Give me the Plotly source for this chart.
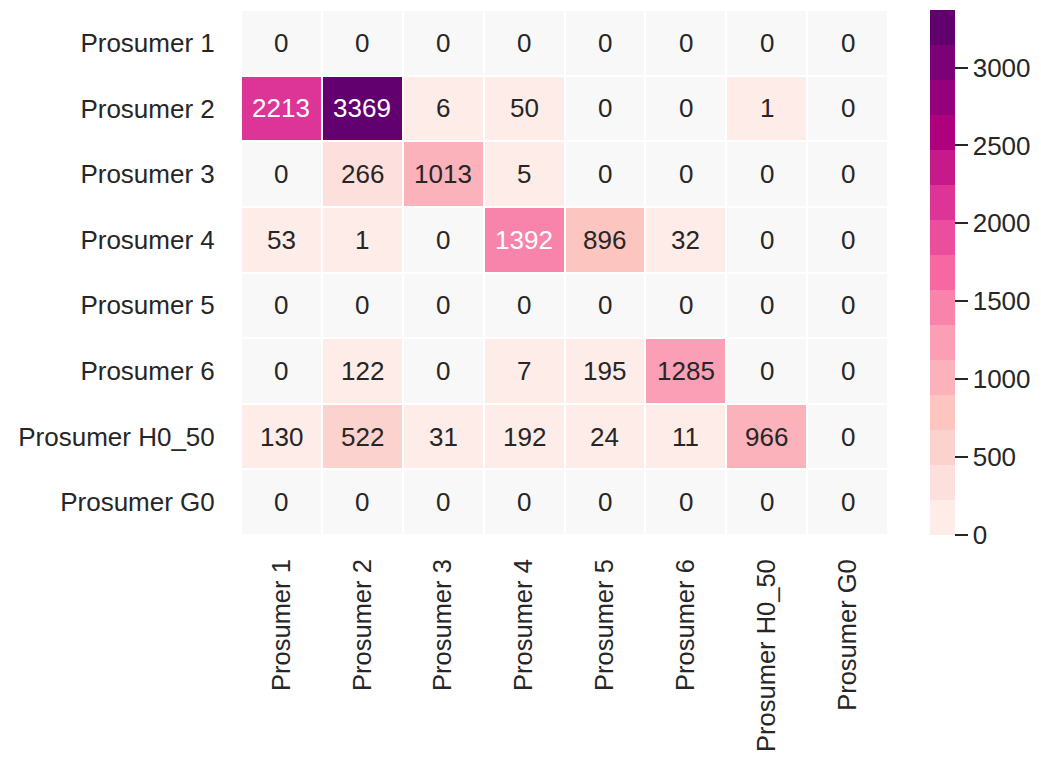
import plotly.graph_objects as go

# Trade matrix between prosumers (row = seller, column = buyer)
labels = ["Prosumer 1", "Prosumer 2", "Prosumer 3", "Prosumer 4",
          "Prosumer 5", "Prosumer 6", "Prosumer H0_50", "Prosumer G0"]

row_p1 = [0, 0, 0, 0, 0, 0, 0, 0]
row_p2 = [2213, 3369, 6, 50, 0, 0, 1, 0]
row_p3 = [0, 266, 1013, 5, 0, 0, 0, 0]
row_p4 = [53, 1, 0, 1392, 896, 32, 0, 0]
row_p5 = [0, 0, 0, 0, 0, 0, 0, 0]
row_p6 = [0, 122, 0, 7, 195, 1285, 0, 0]
row_h0 = [130, 522, 31, 192, 24, 11, 966, 0]
row_g0 = [0, 0, 0, 0, 0, 0, 0, 0]

values = [row_p1, row_p2, row_p3, row_p4, row_p5, row_p6, row_h0, row_g0]

colorbar_ticks = [0, 500, 1000, 1500, 2000, 2500, 3000]

# ColorBrewer RdPu anchors, sampled into 15 discrete steps
RDPU = ["#fff7f3", "#fde0dd", "#fcc5c0", "#fa9fb5", "#f768a1",
        "#dd3497", "#ae017e", "#7a0177", "#49006a"]
N_STEPS = 15


def hex_rgb(h):
    h = h.lstrip("#")
    return tuple(int(h[i:i + 2], 16) for i in (0, 2, 4))


def sample_rdpu(t):
    pos = t * (len(RDPU) - 1)
    i = min(int(pos), len(RDPU) - 2)
    f = pos - i
    a, b = hex_rgb(RDPU[i]), hex_rgb(RDPU[i + 1])
    return tuple(a[k] + (b[k] - a[k]) * f for k in range(3))


steps = [sample_rdpu((i + 1) / (N_STEPS + 1)) for i in range(N_STEPS)]
step_css = ["rgb(%d,%d,%d)" % tuple(round(c) for c in s) for s in steps]

colorscale = []
for i, c in enumerate(step_css):
    colorscale.append([i / N_STEPS, c])
    colorscale.append([(i + 1) / N_STEPS, c])

zmax = max(max(r) for r in values)
zmin = 0


def luminance(rgb):
    out = []
    for c in rgb:
        c = c / 255
        out.append(c / 12.92 if c <= 0.03928 else ((c + 0.055) / 1.055) ** 2.4)
    return 0.2126 * out[0] + 0.7152 * out[1] + 0.0722 * out[2]


z_nonzero = [[v if v != 0 else None for v in r] for r in values]
z_zero = [[0 if v == 0 else None for v in r] for r in values]

FONT = "Liberation Sans, Arial, sans-serif"
TXT = "#262626"
FS = 26

fig = go.Figure()

# empty (zero) cells in neutral grey
fig.add_trace(go.Heatmap(
    z=z_zero, x=labels, y=labels,
    colorscale=[[0, "#f8f8f8"], [1, "#f8f8f8"]],
    showscale=False, xgap=2, ygap=2, hoverinfo="skip",
))

fig.add_trace(go.Heatmap(
    z=z_nonzero, x=labels, y=labels,
    colorscale=colorscale, zmin=zmin, zmax=zmax,
    xgap=2, ygap=2,
    colorbar=dict(
        x=1.065, xanchor="left", xpad=0, ypad=0,
        y=0.5, yanchor="middle",
        len=1.0, lenmode="fraction", thickness=25,
        outlinewidth=0,
        tickvals=colorbar_ticks, ticks="outside", ticklen=13,
        tickwidth=2, tickcolor=TXT,
        tickfont=dict(family=FONT, size=FS, color=TXT),
    ),
))

annotations = []
for ri, r in enumerate(values):
    for ci, v in enumerate(r):
        if v == 0:
            color = TXT
        else:
            idx = min(int((v - zmin) / (zmax - zmin) * N_STEPS), N_STEPS - 1)
            color = TXT if luminance(steps[idx]) > 0.408 else "white"
        annotations.append(dict(
            x=labels[ci], y=labels[ri], text=str(v), showarrow=False,
            font=dict(family=FONT, size=FS, color=color),
        ))

fig.update_layout(
    width=1041, height=759,
    margin=dict(l=241, r=153, t=10, b=224, autoexpand=False),
    paper_bgcolor="white", plot_bgcolor="white",
    annotations=annotations,
    font=dict(family=FONT, size=FS, color=TXT),
)
fig.update_xaxes(
    tickangle=-90, showgrid=False, zeroline=False, showline=False,
    automargin=False,
    ticks="outside", ticklen=13, tickcolor="rgba(0,0,0,0)",
    tickfont=dict(family=FONT, size=25.5, color=TXT),
)
fig.update_yaxes(
    autorange="reversed", showgrid=False, zeroline=False, showline=False,
    automargin=False,
    ticks="outside", ticklen=20, tickcolor="rgba(0,0,0,0)",
    tickfont=dict(family=FONT, size=FS, color=TXT),
)

fig.write_html("out.html")
